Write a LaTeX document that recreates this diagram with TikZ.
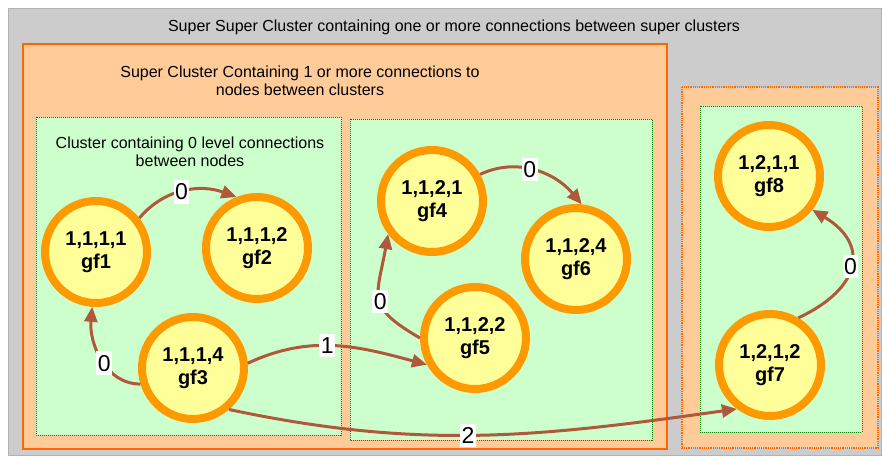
\documentclass[tikz,border=0pt]{standalone}
\usepackage{fontspec}
\setmainfont{Liberation Sans}
\usetikzlibrary{arrows.meta}
\definecolor{ssgray}{RGB}{204,204,204}
\definecolor{ssborder}{RGB}{178,178,178}
\definecolor{scfill}{RGB}{255,204,153}
\definecolor{scborder}{RGB}{255,102,0}
\definecolor{clfill}{RGB}{204,255,204}
\definecolor{clborder}{RGB}{0,128,0}
\definecolor{gfill}{RGB}{255,255,153}
\definecolor{gring}{RGB}{255,153,0}
\definecolor{edgec}{RGB}{176,88,60}
\tikzset{
  gfnode/.style={circle, draw=gring, fill=gfill, line width=8pt, minimum size=102pt, inner sep=0pt,
    font=\fontsize{20}{23}\selectfont\bfseries, align=center},
  conn/.style={draw=edgec, line width=3pt, -{Triangle[length=15pt,width=13pt]}},
  lbl/.style={fill=white, inner xsep=1.5pt, inner ysep=3.5pt, font=\fontsize{23}{25}\selectfont, text=black},
  clbox/.style={draw=clborder, fill=clfill, densely dotted, line width=1pt},
  capt/.style={font=\fontsize{16}{18}\selectfont, align=center}
}
\begin{document}
\begin{tikzpicture}[x=1pt,y=-1pt]
\useasboundingbox (0,0) rectangle (883,458);
% super super cluster
\path[draw=ssborder, fill=ssgray, line width=1pt] (8,8) rectangle (881,455);
\node[capt] (sstitle) at (454,27) {Super Super Cluster containing one or more connections between super clusters};
% super cluster
\path[draw=scborder, fill=scfill, line width=1.2pt] (23,44) rectangle (667,449);
\node[capt] (sctitle) at (300,81) {Super Cluster Containing 1 or more connections to\\nodes between clusters};
\path[draw=scborder, fill=scfill, densely dotted, line width=1.2pt] (682,87) rectangle (878,448);
% clusters
\path[clbox] (36,117) rectangle (341,435);
\node[capt] (cltitle) at (190,152) {Cluster containing 0 level connections\\between nodes};
\path[clbox] (350,119) rectangle (652,440);
\path[clbox] (700,106) rectangle (862,432);
% nodes
\node[gfnode] (gf1) at (96,252) {1,1,1,1\\gf1};
\node[gfnode] (gf2) at (257,248) {1,1,1,2\\gf2};
\node[gfnode] (gf3) at (193,368) {1,1,1,4\\gf3};
\node[gfnode] (gf4) at (432,201) {1,1,2,1\\gf4};
\node[gfnode] (gf6) at (576,259) {1,1,2,4\\gf6};
\node[gfnode] (gf5) at (475,338) {1,1,2,2\\gf5};
\node[gfnode] (gf8) at (769,176) {1,2,1,1\\gf8};
\node[gfnode] (gf7) at (770,365) {1,2,1,2\\gf7};
% connectors
\draw[conn] (gf1.38) to[out=50,in=160] node[lbl, pos=0.48] {0} (gf2.112);
\draw[conn] (gf3.197) to[out=180,in=265] node[lbl, pos=0.45] {0} (gf1.266);
\draw[conn] (gf3.5) to[out=25,in=165] node[lbl, pos=0.45] {1} (gf5.209);
\draw[conn] (gf5.180) to[out=150,in=260,looseness=1.5] node[lbl, pos=0.45] {0} (gf4.217);
\draw[conn] (gf4.29) to[out=25,in=130] node[lbl, pos=0.45] {0} (gf6.84);
\draw[conn] (gf3.-49) to[out=-12,in=188] node[lbl, pos=0.47] {2} (gf7.233);
\draw[conn] (gf7.59) to[out=25,in=-31,looseness=1.6] node[lbl, pos=0.5] {0} (gf8.-38);
\end{tikzpicture}
\end{document}
